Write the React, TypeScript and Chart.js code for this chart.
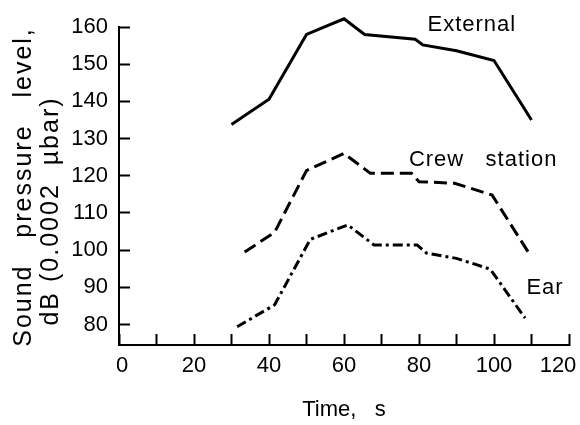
import React, { useEffect, useRef } from "react";
import { Chart, registerables } from "chart.js";

Chart.register(...registerables);

// Time (s) and sound pressure level (dB re 0.0002 µbar)
const externalTime = [30, 40, 50, 60, 65.5, 79, 81, 90, 100, 110];
const externalLevel = [133.8, 140.6, 158, 162.2, 158, 156.7, 155.2, 153.6, 151, 135];

const crewTime = [33.5, 41.5, 50, 60, 67, 78, 80, 89.5, 99.5, 109.5];
const crewLevel = [99.5, 104.8, 121.4, 126, 120.7, 120.7, 118.4, 118, 114.8, 98.9];

const earTime = [31.5, 41.5, 51, 61, 68, 79.5, 82, 90, 99, 108.3];
const earLevel = [79.4, 85.3, 102.9, 106.8, 101.4, 101.4, 99.2, 97.8, 94.9, 81.7];

const xTicks = [0, 10, 20, 30, 40, 50, 60, 70, 80, 90, 100, 110, 120];
const yTicks = [80, 90, 100, 110, 120, 130, 140, 150, 160];

const seriesNames = ["External", "Crew   station", "Ear"];
// label anchor points in data units (time, level)
const labelTime = [94.1, 97.1, 113.6];
const labelLevel = [160.5, 124.2, 89.8];

const yTitleLines = ["Sound   pressure   level,", "dB (0.0002  \u00b5bar)"];
const xTitle = "Time,   s";

const FONT = "'Liberation Sans', Arial, Helvetica, sans-serif";

const toPoints = (xs: number[], ys: number[]) => xs.map((x, i) => ({ x, y: ys[i] }));

const labelPlugin = {
  id: "seriesLabels",
  afterDatasetsDraw(chart: any) {
    const { ctx, scales } = chart;
    ctx.save();
    ctx.fillStyle = "#000";
    ctx.font = `22px ${FONT}`;
    (ctx as any).letterSpacing = "1px";
    ctx.textAlign = "center";
    ctx.textBaseline = "middle";
    seriesNames.forEach((name, i) => {
      ctx.fillText(name, scales.x.getPixelForValue(labelTime[i]), scales.y.getPixelForValue(labelLevel[i]));
    });
    ctx.restore();
  },
};

const yTitlePlugin = {
  id: "yTitle",
  afterDraw(chart: any) {
    const { ctx, chartArea } = chart;
    const cy = (chartArea.top + chartArea.bottom) / 2;
    ctx.save();
    ctx.fillStyle = "#000";
    ctx.font = `25px ${FONT}`;
    (ctx as any).letterSpacing = "2px";
    ctx.textAlign = "center";
    ctx.textBaseline = "middle";
    ctx.translate(24, cy + 1);
    ctx.rotate(-Math.PI / 2);
    ctx.fillText(yTitleLines[0], 0, 0);
    ctx.fillText(yTitleLines[1], -24, 27);
    ctx.restore();
  },
};

const tickShiftPlugin = {
  id: "tickShift",
  beforeDraw(chart: any) {
    const s = chart.scales.x;
    const items = s.getLabelItems(chart.chartArea);
    items.forEach((it: any) => {
      if (it.label === "120") it.options.translation[0] -= 11;
      if (it.label === "0") it.options.translation[0] += 3;
    });
  },
};

export default function App() {
  const ref = useRef<HTMLCanvasElement>(null);
  useEffect(() => {
    if (!ref.current) return;
    const line = (data: any, dash: number[]) => ({
      data,
      borderColor: "#000",
      borderWidth: 3,
      borderDash: dash,
      pointRadius: 0,
      tension: 0,
      fill: false,
      clip: false,
    });
    const chart = new Chart(ref.current, {
      type: "line",
      data: {
        datasets: [
          line(toPoints(externalTime, externalLevel), []),
          line(toPoints(crewTime, crewLevel), [13, 6]),
          line(toPoints(earTime, earLevel), [10, 4, 3, 4]),
        ],
      },
      options: {
        animation: false,
        responsive: false,
        events: [],
        layout: { padding: { top: 27, right: 11, left: 0, bottom: 0 }, autoPadding: false },
        plugins: { legend: { display: false }, tooltip: { enabled: false } },
        scales: {
          x: {
            type: "linear",
            min: 0,
            max: 120,
            afterBuildTicks: (axis: any) => {
              axis.ticks = xTicks.map((v) => ({ value: v }));
            },
            afterFit: (axis: any) => {
              axis.height = 80;
              axis.paddingLeft = 0;
              axis.paddingRight = 0;
            },
            ticks: {
              color: "#000",
              font: { family: FONT, size: 22 },
              padding: 19,
              maxRotation: 0,
              autoSkip: false,
              callback: (v: any) => (Number(v) % 20 === 0 ? String(v) : ""),
            },
            grid: { drawOnChartArea: false, drawTicks: true, tickLength: -11, tickWidth: 2, tickColor: "#000" },
            border: { display: true, width: 2, color: "#000" },
            title: {
              display: true,
              text: xTitle,
              color: "#000",
              font: { family: FONT, size: 22 },
              padding: { top: 0, bottom: 2 },
            },
          },
          y: {
            type: "linear",
            min: 74.5,
            max: 160,
            afterBuildTicks: (axis: any) => {
              axis.ticks = yTicks.map((v) => ({ value: v }));
            },
            afterFit: (axis: any) => {
              axis.width = 119;
              axis.paddingTop = 0;
              axis.paddingBottom = 0;
            },
            ticks: {
              color: "#000",
              font: { family: FONT, size: 22 },
              padding: 22,
              autoSkip: false,
              callback: (v: any) => String(v),
            },
            grid: { drawOnChartArea: false, drawTicks: true, tickLength: -11, tickWidth: 2, tickColor: "#000" },
            border: { display: true, width: 2, color: "#000" },
            title: { display: false },
          },
        },
      },
      plugins: [labelPlugin, yTitlePlugin, tickShiftPlugin],
    });
    return () => chart.destroy();
  }, []);
  return (
    <canvas
      ref={ref}
      width={580}
      height={425}
      style={{ position: "fixed", left: 0, top: 0, width: 580, height: 425, background: "#fff" }}
    />
  );
}
